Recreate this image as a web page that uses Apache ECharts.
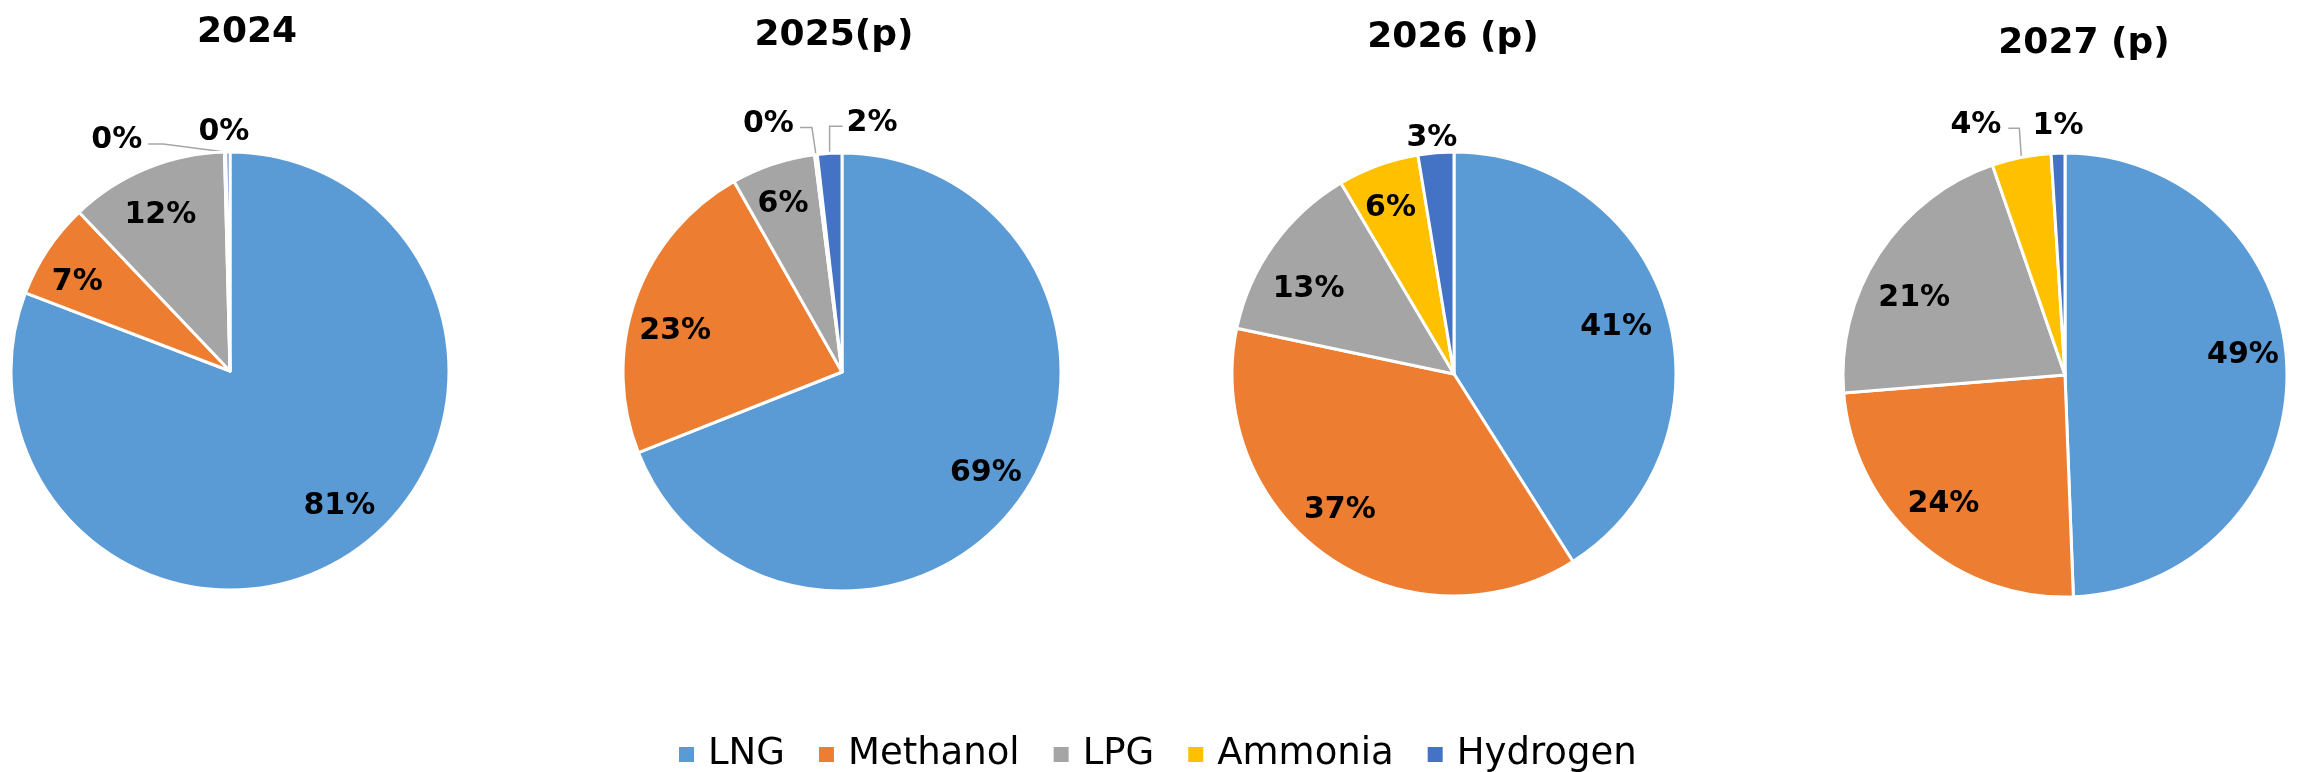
<!DOCTYPE html>
<html>
<head>
<meta charset="utf-8">
<script src="https://cdn.jsdelivr.net/npm/echarts@6/dist/echarts.min.js"></script>
<style>
html, body { margin: 0; padding: 0; background: #fff; }
#chart { width: 2300px; height: 772px; }
</style>
</head>
<body>
<div id="chart"></div>
<script>
// fuel mix shares (%)
const fuels = ['LNG', 'Methanol', 'LPG', 'Ammonia', 'Hydrogen'];
const years = ['2024', '2025(p)', '2026 (p)', '2027 (p)'];
const share2024 = [80.8, 7.1, 11.7, 0.1, 0.3];
const share2025 = [69.0, 22.8, 6.2, 0.2, 1.8];
const share2026 = [41.0, 37.3, 13.2, 5.9, 2.6];
const share2027 = [49.4, 24.3, 21.0, 4.3, 1.0];
const shares = [share2024, share2025, share2026, share2027];

const colors = ['#5B9BD5', '#ED7D31', '#A5A5A5', '#FFC000', '#4472C4'];

// layout of each pie
const centers = [[230, 371], [842, 372], [1454, 374], [2065, 375]];
const radii = [219, 219, 222, 222];
const titleX = [242, 829, 1448, 2079];
const titleTop = [10, 13, 15, 21];

// small shifts of the inside labels (the source tool does not centre them exactly)
const insideNudge = [
	[[12, -6], [-10, 6], [-4, 3]],
	[[2, 5], [-5, 16], [-5, -5]],
	[[-5, 2], [-15, -7], [-4, 17], [-4, -2]],
	[[4, -17], [-6, -1], [-5, 18]]
];

// how the small outside labels sit, relative to the slice's point on the rim
// kx/ky: knee of the leader, run: horizontal part, dir: side; no run = plain label above
const outsideLabels = [
	{ 3: { kx: -62, ky: -8, run: 15, dir: -1, gap: 6, ty: -4 }, 4: { dx: -4, dy: -20 } },
	{ 3: { kx: -4, ky: -27, run: 12, dir: -1, gap: 6, ty: -3 }, 4: { kx: 0, ky: -27, run: 13, dir: 1, gap: 4, ty: -3 } },
	{ 4: { dx: -4, dy: -15 } },
	{ 3: { kx: -2, ky: -29, run: 11, dir: -1, gap: 7, ty: -3 }, 4: { dx: 0, dy: -27 } }
];

const font = 'DejaVu Sans, Verdana, sans-serif';
const chart = echarts.init(document.getElementById('chart'));

const basePies = shares.map((vals, i) => ({
	type: 'pie',
	name: years[i],
	center: centers[i],
	radius: [0, radii[i]],
	startAngle: 90,
	clockwise: true,
	silent: true,
	label: { show: false },
	labelLine: { show: false },
	itemStyle: { borderColor: '#fff', borderWidth: 3 },
	data: fuels.map((f, k) => ({ name: f, value: vals[k] }))
}));

// transparent ring on top carrying the labels, so inside labels sit near 3/4 of the radius
const labelRings = shares.map((vals, i) => ({
	type: 'pie',
	name: years[i] + ' labels',
	center: centers[i],
	radius: [Math.round(radii[i] * 0.54), radii[i]],
	startAngle: 90,
	clockwise: true,
	silent: true,
	itemStyle: { color: 'rgba(0,0,0,0)', borderWidth: 0 },
	label: {
		show: true,
		position: 'inside',
		formatter: p => Math.round(p.value) + '%',
		fontFamily: font,
		fontWeight: 'bold',
		fontSize: 30,
		color: '#000'
	},
	labelLayout: function (p) {
		const cfg = outsideLabels[i][p.dataIndex];
		if (!cfg) {
			const n = insideNudge[i][p.dataIndex] || [0, 0];
			return { dx: n[0], dy: n[1] };
		}
		let p0;
		if (p.labelLinePoints && p.labelLinePoints.length) {
			p0 = [p.labelLinePoints[0][0], p.labelLinePoints[0][1]];
		} else {
			p0 = [p.rect.x + p.rect.width / 2, p.rect.y];
		}
		if (cfg.run == null) {
			return {
				x: p0[0] + cfg.dx, y: p0[1] + cfg.dy,
				align: 'center', verticalAlign: 'middle',
				labelLinePoints: [p0, p0.slice(), p0.slice()]
			};
		}
		const p1 = [p0[0] + cfg.kx, p0[1] + cfg.ky];
		const p2 = [p1[0] + cfg.dir * cfg.run, p1[1]];
		return {
			x: p2[0] + cfg.dir * cfg.gap, y: p2[1] + cfg.ty,
			align: cfg.dir < 0 ? 'right' : 'left', verticalAlign: 'middle',
			labelLinePoints: [p0, p1, p2]
		};
	},
	data: fuels.map((f, k) => {
		const item = { name: f, value: vals[k] };
		const cfg = outsideLabels[i][k];
		if (cfg) {
			item.label = { position: 'outside' };
			item.labelLine = {
				show: true,
				length: 20,
				length2: 10,
				lineStyle: { color: '#A6A6A6', width: 1.5, opacity: cfg.run == null ? 0 : 1 }
			};
		}
		return item;
	})
}));

const option = {
	animation: false,
	color: colors,
	title: years.map((y, i) => ({
		text: y,
		left: titleX[i],
		top: titleTop[i],
		textAlign: 'center',
		textStyle: { fontFamily: font, fontWeight: 'bold', fontSize: 36, color: '#000' }
	})),
	legend: {
		data: fuels,
		left: 672,
		top: 731,
		icon: 'rect',
		itemWidth: 17,
		itemHeight: 17,
		itemGap: 32,
		textStyle: { fontFamily: font, fontSize: 37, color: '#000', padding: [0, 0, 0, 8] }
	},
	series: basePies.concat(labelRings)
};
chart.setOption(option);
</script>
</body>
</html>
